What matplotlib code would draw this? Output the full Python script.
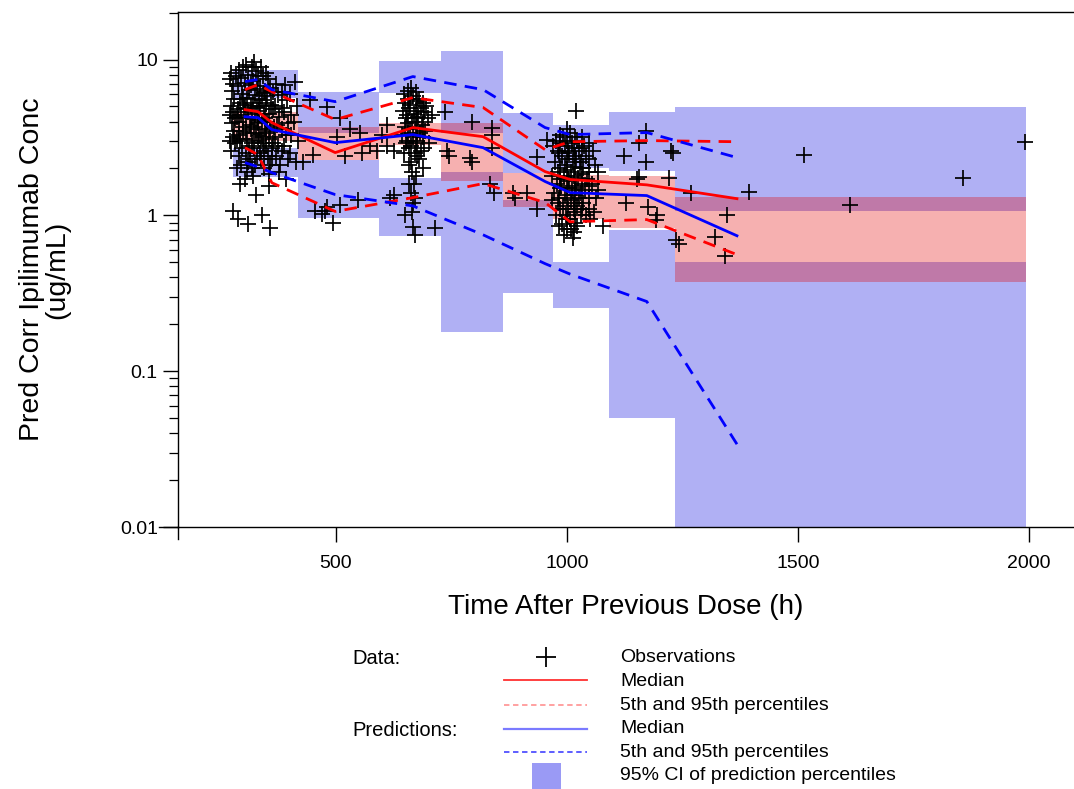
import matplotlib
matplotlib.use("Agg")
import matplotlib.pyplot as plt
from matplotlib.ticker import NullFormatter
import numpy as np

plt.rcParams['font.family'] = ['Liberation Sans', 'DejaVu Sans']

# time bins of the VPC (h)
bin_lo = [278, 419, 594, 728, 862, 970, 1091, 1234]
bin_hi = [419, 594, 728, 862, 970, 1091, 1234, 1993]

# 95% CI of predicted 95th percentile
p95_ci_lo = [5.7, 3.40, 6.14, 3.40, 1.88, 2.02, 1.94, 1.07]
p95_ci_hi = [8.6, 6.23, 9.75, 11.3, 4.57, 3.82, 4.59, 4.99]
# 95% CI of predicted median
med_ci_lo = [3.0, 2.28, 2.84, 1.65, 1.14, 0.95, 0.83, 0.375]
med_ci_hi = [4.6, 3.71, 3.94, 3.94, 1.88, 1.82, 1.80, 1.32]
# 95% CI of predicted 5th percentile
p05_ci_lo = [1.77, 0.967, 0.741, 0.179, 0.319, 0.255, 0.050, 0.001]
p05_ci_hi = [2.72, 2.28, 1.75, 1.91, 1.26, 0.505, 0.81, 0.505]

# percentile lines
line_t = [304, 332, 362, 499, 667, 819, 953, 1007, 1173, 1368]
obs_med = [4.77, 4.63, 3.94, 2.53, 3.66, 3.20, 1.91, 1.70, 1.57, 1.28]
pred_med = [4.30, 4.24, 3.55, 2.93, 3.30, 2.72, 1.65, 1.40, 1.34, 0.74]
obs_p95 = [6.41, 6.90, 6.22, 4.12, 5.70, 4.92, 2.64, 2.97, 3.02, 2.97]
pred_p95 = [7.22, 7.45, 6.41, 5.37, 7.78, 6.41, 3.66, 3.30, 3.40, 2.35]
obs_p05 = [2.72, 2.45, 1.62, 1.06, 1.30, 1.60, 1.21, 0.91, 0.94, 0.56]
pred_p05 = [2.18, 2.05, 1.88, 1.36, 1.15, 0.75, 0.49, 0.42, 0.28, 0.034]

# observations (time, pred-corrected conc)
obs = [
    # first cluster
    (274, 8.2), (279, 7.0), (276, 6.3), (281, 5.6), (273, 5.0), (278, 4.6), (283, 4.2), (275, 3.9),
    (280, 3.5), (277, 3.2), (282, 2.9), (274, 2.6), (279, 1.06),
    (291, 8.6), (295, 7.6), (289, 6.8), (297, 6.0), (293, 5.3), (288, 4.8), (296, 4.4), (292, 4.0),
    (299, 3.7), (290, 3.3), (294, 3.0), (298, 2.7), (291, 2.4), (296, 2.1), (293, 1.58), (289, 0.95),
    (306, 9.2), (310, 8.0), (304, 7.1), (312, 6.4), (308, 5.7), (303, 5.1), (311, 4.6), (307, 4.2),
    (314, 3.8), (305, 3.4), (309, 3.1), (313, 2.8), (306, 2.5), (311, 2.2), (308, 1.9), (304, 1.72),
    (310, 0.88),
    (324, 9.7), (328, 8.4), (322, 7.3), (330, 6.5), (326, 5.9), (321, 5.3), (329, 4.9), (325, 4.5),
    (332, 4.1), (323, 3.7), (327, 3.4), (331, 3.0), (324, 2.7), (329, 2.4), (326, 2.1), (322, 1.8),
    (328, 1.35),
    (339, 9.0), (343, 7.8), (337, 6.8), (345, 6.1), (341, 5.5), (336, 5.0), (344, 4.5), (340, 4.0),
    (347, 3.6), (338, 3.2), (342, 2.9), (346, 2.6), (339, 2.3), (344, 2.0), (341, 1.0),
    (354, 7.5), (358, 6.6), (352, 5.8), (360, 5.1), (356, 4.5), (351, 4.0), (359, 3.5), (355, 3.1),
    (362, 2.7), (353, 2.4), (357, 2.1), (355, 1.55), (359, 0.83),
    (371, 7.0), (375, 5.9), (369, 5.0), (377, 4.3), (373, 3.8), (368, 3.2), (376, 2.8), (372, 2.4),
    (379, 2.1),
    (391, 6.9), (395, 5.5), (389, 4.6), (397, 3.9), (393, 3.3), (388, 2.8), (396, 2.3), (392, 1.7),
    (412, 7.2), (416, 5.0), (410, 4.0), (418, 3.0), (414, 2.2),
    (285, 7.8), (300, 5.6), (302, 4.9), (286, 4.3), (300, 3.5), (287, 3.1), (318, 8.9), (316, 6.9),
    (317, 5.0), (319, 4.3), (316, 3.6), (318, 2.9), (315, 2.3), (333, 7.8), (334, 5.6), (335, 4.7),
    (333, 3.9), (334, 3.3), (336, 2.5), (349, 8.2), (348, 6.3), (349, 5.3), (348, 4.2), (350, 3.4),
    (349, 2.8), (364, 6.2), (365, 4.8), (366, 3.7), (364, 2.9), (363, 2.3), (383, 6.2), (384, 4.9),
    (383, 3.6), (385, 2.6), (402, 6.0), (403, 4.4), (404, 3.3), (401, 2.5), (272, 7.5), (272, 4.4),
    (272, 3.0), (300, 9.0), (320, 2.0), (355, 1.85), (378, 1.9), (286, 2.0),
    # between first and second cluster
    (445, 5.5), (481, 4.98), (509, 4.2), (553, 3.4), (503, 3.2), (557, 2.5), (574, 2.8), (451, 2.45),
    (430, 2.2), (455, 1.06), (494, 0.9), (481, 1.14), (477, 1.07), (510, 1.17), (549, 1.25),
    (530, 3.6), (590, 2.6), (600, 3.3), (470, 1.02), (520, 2.4), (611, 2.8), (611, 3.8), (626, 1.36),
    (618, 1.3), (626, 2.6),
    # second cluster
    (647, 6.0), (651, 5.3), (645, 4.7), (653, 4.2), (649, 3.7), (644, 3.3), (652, 2.9), (648, 2.5),
    (663, 6.6), (667, 5.8), (661, 5.1), (669, 4.5), (665, 4.0), (660, 3.6), (668, 3.2), (664, 2.8),
    (671, 2.5), (662, 2.2), (666, 1.9), (670, 1.6), (663, 1.4), (667, 1.2),
    (680, 5.6), (684, 4.9), (678, 4.3), (686, 3.8), (682, 3.4), (677, 3.0), (685, 2.6), (681, 2.3),
    (688, 2.0),
    (695, 5.0), (699, 4.2), (693, 3.5), (701, 2.9),
    (650, 1.0), (672, 0.75), (715, 0.83), (668, 0.84), (709, 4.4), (665, 1.05),
    (656, 6.3), (657, 5.6), (658, 4.9), (655, 4.4), (656, 3.9), (657, 3.4), (655, 3.0), (658, 2.7),
    (674, 6.2), (675, 5.4), (673, 4.7), (676, 4.2), (674, 3.7), (675, 3.3), (673, 2.9), (676, 2.4),
    (690, 5.3), (691, 4.6), (689, 4.0), (690, 3.2), (692, 2.7), (658, 2.1), (674, 1.8), (659, 1.6),
    (672, 1.3),
    # between second and third cluster
    (745, 2.4), (737, 4.6), (795, 4.0), (795, 2.2), (838, 3.3), (838, 2.7), (843, 1.4), (888, 1.3),
    (741, 2.6), (791, 2.35), (838, 3.65), (834, 1.58), (884, 1.39), (914, 1.39), (935, 2.38),
    (957, 3.06), (935, 1.1),
    # third cluster
    (976, 3.0), (980, 2.6), (974, 2.2), (982, 1.9), (978, 1.6), (973, 1.4), (981, 1.2), (977, 1.0),
    (984, 0.85),
    (991, 3.2), (995, 2.8), (989, 2.4), (997, 2.1), (993, 1.8), (988, 1.55), (996, 1.35), (992, 1.15),
    (999, 1.0), (990, 0.88), (994, 0.75),
    (1007, 3.4), (1011, 2.9), (1005, 2.5), (1013, 2.2), (1009, 1.9), (1004, 1.65), (1012, 1.45),
    (1008, 1.25), (1015, 1.1), (1006, 0.95), (1010, 0.82), (1014, 0.72),
    (1022, 3.0), (1026, 2.6), (1020, 2.3), (1028, 2.0), (1024, 1.75), (1019, 1.5), (1027, 1.3),
    (1023, 1.15), (1030, 1.0), (1021, 0.86),
    (1037, 2.8), (1041, 2.4), (1035, 2.0), (1043, 1.7), (1039, 1.45), (1034, 1.2), (1042, 1.0),
    (1057, 2.6), (1061, 2.1), (1055, 1.6), (1063, 1.3), (1059, 1.05),
    (1020, 4.7), (1078, 0.85),
    (985, 3.3), (986, 2.9), (984, 2.5), (986, 2.0), (985, 1.7), (986, 1.5), (984, 1.3), (985, 1.1),
    (1000, 3.6), (1001, 3.0), (1002, 2.6), (1000, 2.3), (1001, 1.95), (1002, 1.7), (1000, 1.5),
    (1001, 1.3), (1002, 1.1), (1000, 0.95), (1001, 0.82), (1017, 3.2), (1016, 2.7), (1018, 2.4),
    (1017, 2.05), (1016, 1.8), (1018, 1.55), (1017, 1.35), (1016, 1.2), (1018, 1.05), (1017, 0.9),
    (1016, 0.78), (1032, 3.2), (1033, 2.7), (1031, 2.2), (1032, 1.85), (1033, 1.6), (1031, 1.4),
    (1032, 1.1), (1048, 2.9), (1049, 2.3), (1047, 1.9), (1048, 1.55), (1049, 1.3), (1047, 1.1),
    (1067, 1.9), (1068, 1.45), (1050, 0.95), (970, 2.8), (968, 1.8), (969, 1.25),
    # late times
    (1124, 2.4), (1172, 3.5), (1157, 2.9), (1172, 2.2), (1226, 2.6), (1222, 1.75), (1157, 1.77),
    (1128, 1.2), (1176, 1.14), (1196, 1.0), (1237, 0.7), (1230, 2.5), (1152, 1.7), (1269, 1.4),
    (1394, 1.42), (1347, 1.0), (1321, 0.73), (1342, 0.55), (1243, 0.66), (1193, 0.93),
    (1513, 2.45), (1613, 1.17), (1857, 1.74), (1990, 2.95),
]
obs_t = [p[0] for p in obs]
obs_c = [p[1] for p in obs]

fig = plt.figure(figsize=(10.74, 7.89), dpi=100)
ax = fig.add_axes([178 / 1074, 262 / 789, 896 / 1074, 515 / 789])
ax.set_yscale('log')

blue_box = (0, 0, 222 / 255)
red_box = (226 / 255, 0, 0)
widths = np.array(bin_hi) - np.array(bin_lo)
for lo, hi in [(p95_ci_lo, p95_ci_hi), (p05_ci_lo, p05_ci_hi)]:
    ax.bar(bin_lo, np.array(hi) - np.array(lo), width=widths, bottom=lo, align='edge',
           color=blue_box, alpha=0.31, linewidth=0, zorder=1)
ax.bar(bin_lo, np.array(med_ci_hi) - np.array(med_ci_lo), width=widths, bottom=med_ci_lo,
       align='edge', color=red_box, alpha=0.31, linewidth=0, zorder=1)

ax.plot(obs_t, obs_c, linestyle='none', marker='+', color='black', markersize=11,
        markeredgewidth=1.25, zorder=2)

dash = (4.5, 3)
ax.plot(line_t, obs_med, color='red', lw=2, zorder=3)
ax.plot(line_t, pred_med, color='blue', lw=2, zorder=3)
ax.plot(line_t, obs_p95, color='red', lw=2, dashes=dash, zorder=3)
ax.plot(line_t, obs_p05, color='red', lw=2, dashes=dash, zorder=3)
ax.plot(line_t, pred_p95, color='blue', lw=2, dashes=dash, zorder=3)
ax.plot(line_t, pred_p05, color='blue', lw=2, dashes=dash, zorder=3)

ax.set_xlim(159, 2097)
ax.set_ylim(0.01, 20.2)
ax.set_xticks([500, 1000, 1500, 2000])
ax.set_yticks([0.01, 0.1, 1, 10])
ax.set_yticklabels(['0.01', '0.1', '1', '10'])
ax.yaxis.set_minor_formatter(NullFormatter())
ax.tick_params(axis='both', which='major', length=11, width=1, labelsize=14)
ax.tick_params(axis='y', which='minor', length=6.5, width=0.9)
ax.tick_params(axis='x', pad=9)
ax.spines['right'].set_visible(False)
for s in ['top', 'left', 'bottom']:
    ax.spines[s].set_linewidth(1)

ax.set_xlabel('Time After Previous Dose (h)', fontsize=20)
ax.xaxis.set_label_coords(0.5, -0.13)
ax.set_ylabel('Pred Corr Ipilimumab Conc\n(ug/mL)', fontsize=20.5, linespacing=0.95)
ax.yaxis.set_label_coords(-0.12, 0.5)

# overlay in pixel coordinates for the legend block
lax = fig.add_axes([0, 0, 1, 1])
lax.set_xlim(0, 1074)
lax.set_ylim(789, 0)
lax.axis('off')
lax.plot([159, 178], [527, 527], color='black', lw=1)
lax.plot([178, 178], [527, 539], color='black', lw=1)

lax.text(352, 659, 'Data:', fontsize=14.5, va='center')
lax.text(352, 730, 'Predictions:', fontsize=14.5, va='center')
lax.plot([546], [657], marker='+', color='black', markersize=14, markeredgewidth=1.3)
lax.plot([504, 587], [680, 680], color='#ff3030', lw=1.3)
lax.plot([504, 587], [705, 705], color='#ff9a9a', lw=1.3, dashes=(3, 2))
lax.plot([504, 587], [729, 729], color='#7a7aff', lw=1.6)
lax.plot([504, 587], [752, 752], color='#5050ff', lw=1.3, dashes=(3, 2))
lax.add_patch(plt.Rectangle((532, 763), 29, 30, color='#9a9af5', lw=0))
legend_labels = ['Observations', 'Median', '5th and 95th percentiles', 'Median',
                 '5th and 95th percentiles', '95% CI of prediction percentiles']
for i, lab in enumerate(legend_labels):
    lax.text(620, 658 + i * 23.6, lab, fontsize=14, va='center')

fig.savefig('out.png', dpi=100)
